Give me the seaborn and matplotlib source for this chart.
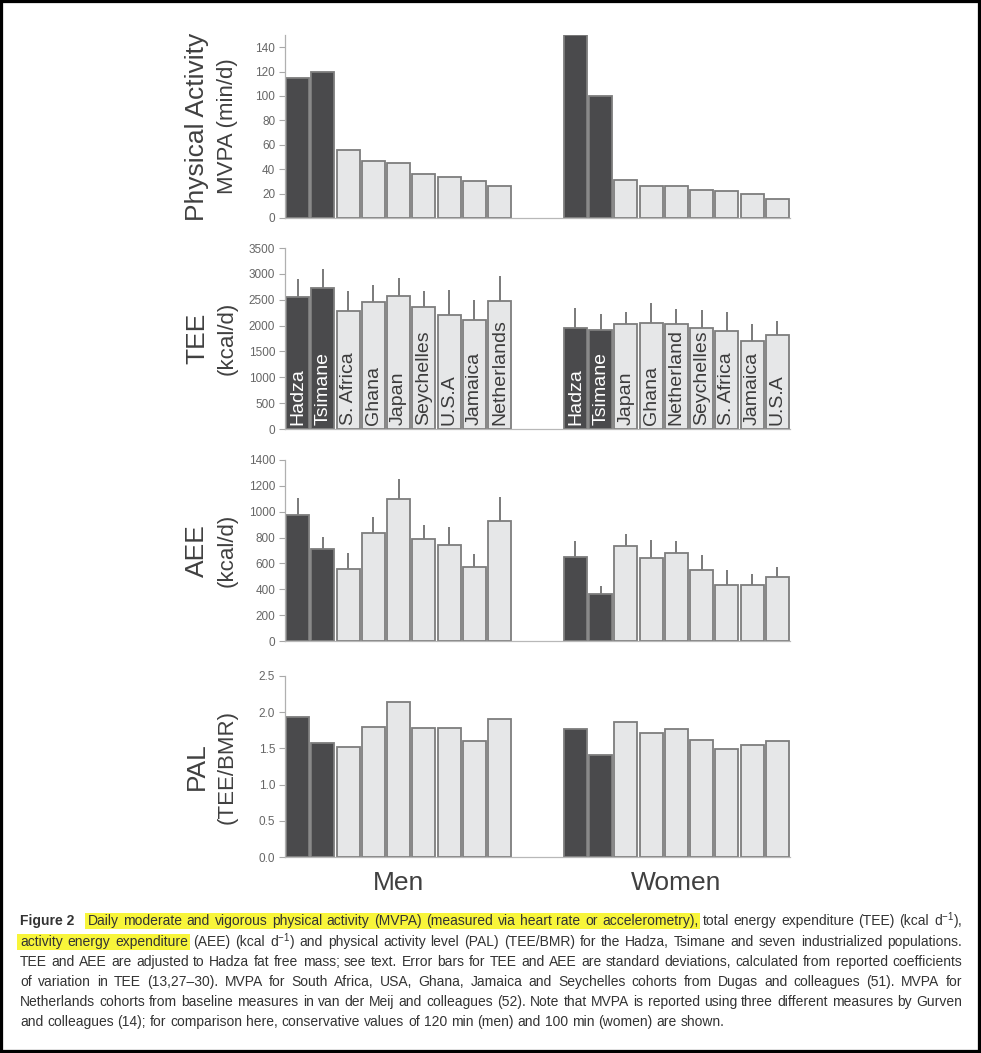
import numpy as np
import pandas as pd
import matplotlib
matplotlib.use("Agg")
import matplotlib.pyplot as plt
import matplotlib.patches as mpatches
from matplotlib import font_manager
from matplotlib.font_manager import FontProperties
from matplotlib.ticker import FormatStrFormatter
import seaborn as sns

# ---------------- data ----------------
men_pops = ["Hadza", "Tsimane", "S. Africa", "Ghana", "Japan", "Seychelles", "U.S.A", "Jamaica", "Netherlands"]
women_pops = ["Hadza", "Tsimane", "Japan", "Ghana", "Netherland", "Seychelles", "S. Africa", "Jamaica", "U.S.A"]
men_group = ["dark", "dark", "light", "light", "light", "light", "light", "light", "light"]
women_group = ["dark", "dark", "light", "light", "light", "light", "light", "light", "light"]

mvpa_men = [115, 120, 56, 47, 45, 36, 33.5, 30, 26]
mvpa_women = [150, 100, 31, 26, 26, 23, 22, 19.5, 15.5]

tee_men = [2553, 2727, 2282, 2450, 2566, 2353, 2205, 2102, 2476]
tee_men_sd = [355, 374, 381, 335, 348, 316, 477, 387, 483]
tee_women = [1947, 1921, 2031, 2057, 2025, 1954, 1896, 1709, 1818]
tee_women_sd = [387, 303, 238, 380, 296, 341, 367, 322, 271]

aee_men = [974, 709, 557, 835, 1098, 789, 742, 570, 928]
aee_men_sd = [134, 95, 121, 121, 155, 111, 142, 105, 186]
aee_women = [647, 361, 737, 644, 678, 552, 436, 436, 495]
aee_women_sd = [129, 62, 88, 140, 95, 116, 116, 85, 80]

pal_men = [1.93, 1.57, 1.52, 1.79, 2.14, 1.78, 1.78, 1.60, 1.91]
pal_women = [1.77, 1.41, 1.86, 1.71, 1.77, 1.62, 1.49, 1.55, 1.60]

sex_labels = ["Men", "Women"]

caption_lines = [
    ("Figure 2", "Daily moderate and vigorous physical activity (MVPA) (measured via heart rate or accelerometry),",
     "total energy expenditure (TEE) (kcal d$^{-1}$),"),
    (None, "activity energy expenditure",
     "(AEE) (kcal d$^{-1}$) and physical activity level (PAL) (TEE/BMR) for the Hadza, Tsimane and seven industrialized populations."),
    (None, None, "TEE and AEE are adjusted to Hadza fat free mass; see text. Error bars for TEE and AEE are standard deviations, calculated from reported coefficients"),
    (None, None, "of variation in TEE (13,27\u201330). MVPA for South Africa, USA, Ghana, Jamaica and Seychelles cohorts from Dugas and colleagues (51). MVPA for"),
    (None, None, "Netherlands cohorts from baseline measures in van der Meij and colleagues (52). Note that MVPA is reported using three different measures by Gurven"),
    (None, None, "and colleagues (14); for comparison here, conservative values of 120 min (men) and 100 min (women) are shown."),
]

# ---------------- style ----------------
sns.set_theme(style="white")
names = {f.name for f in font_manager.fontManager.ttflist}
main_font = "Liberation Sans" if "Liberation Sans" in names else "DejaVu Sans"
plt.rcParams["font.family"] = [main_font, "DejaVu Sans"]
plt.rcParams["mathtext.fontset"] = "custom"
plt.rcParams["mathtext.rm"] = main_font
plt.rcParams["mathtext.it"] = main_font
plt.rcParams["mathtext.bf"] = main_font

W, H = 981, 1053
fig = plt.figure(figsize=(W / 100, H / 100), dpi=100)

GAP = ["gap1", "gap2"]
order = ["M_" + p for p in men_pops] + GAP + ["W_" + p for p in women_pops]
palette = {"dark": "#4a4a4c", "light": "#e6e7e8"}

AX_L, AX_R = 285, 790

panels = [
    dict(m=mvpa_men, w=mvpa_women, msd=None, wsd=None, ymax=150, ticks=np.arange(0, 141, 20),
         lab1="Physical Activity", lab2="MVPA (min/d)", top=35, bot=218, fmt="%d", names=False),
    dict(m=tee_men, w=tee_women, msd=tee_men_sd, wsd=tee_women_sd, ymax=3500, ticks=np.arange(0, 3501, 500),
         lab1="TEE", lab2="(kcal/d)", top=248, bot=429, fmt="%d", names=True),
    dict(m=aee_men, w=aee_women, msd=aee_men_sd, wsd=aee_women_sd, ymax=1400, ticks=np.arange(0, 1401, 200),
         lab1="AEE", lab2="(kcal/d)", top=460, bot=641, fmt="%d", names=False),
    dict(m=pal_men, w=pal_women, msd=None, wsd=None, ymax=2.5, ticks=np.arange(0, 2.51, 0.5),
         lab1="PAL", lab2="(TEE/BMR)", top=676, bot=857, fmt="%.1f", names=False),
]

for k, P in enumerate(panels):
    ax = fig.add_axes([AX_L / W, 1 - P["bot"] / H, (AX_R - AX_L) / W, (P["bot"] - P["top"]) / H])
    df = pd.DataFrame({
        "slot": ["M_" + p for p in men_pops] + ["W_" + p for p in women_pops],
        "value": list(P["m"]) + list(P["w"]),
        "group": men_group + women_group,
    })
    sns.barplot(data=df, x="slot", y="value", hue="group", order=order, palette=palette,
                dodge=False, width=0.92, edgecolor="#7d7d7d", linewidth=1.3, legend=False,
                errorbar=None, ax=ax, zorder=2)
    if P["msd"] is not None:
        vals = list(P["m"]) + list(P["w"])
        sds = list(P["msd"]) + list(P["wsd"])
        xs = [order.index(s) for s in df["slot"]]
        ax.vlines(xs, vals, np.array(vals) + np.array(sds), colors="#7a7a7a", linewidth=1.4, zorder=1)
    if P["names"]:
        for s, g, lbl in zip(df["slot"], df["group"], men_pops + women_pops):
            ax.annotate(lbl, xy=(order.index(s), 0), xytext=(0, 3), textcoords="offset points",
                        rotation=90, ha="center", va="bottom", fontsize=14,
                        color="white" if g == "dark" else "#3c3c3c", zorder=3)
    ax.set_xlim(-0.5, len(order) - 0.5)
    ax.set_ylim(0, P["ymax"])
    ax.set_yticks(P["ticks"])
    ax.yaxis.set_major_formatter(FormatStrFormatter(P["fmt"]))
    if k == 3:
        ax.set_xticks([4, 15])
        ax.set_xticklabels(sex_labels, fontsize=19, color="#404040")
        ax.tick_params(axis="x", which="major", length=0, pad=10)
    else:
        ax.set_xticks([])
    ax.set_xticks(np.arange(-0.5, len(order), 1.0), minor=True)
    ax.tick_params(axis="x", which="minor", direction="out", length=4, width=0.8, color="#b0b0b0")
    ax.tick_params(axis="y", direction="out", length=4, width=0.8, color="#a8a8a8",
                   labelsize=8.5, labelcolor="#666666", pad=3, left=True)
    ax.set_xlabel("")
    ax.set_ylabel("")
    for sp in ["top", "right"]:
        ax.spines[sp].set_visible(False)
    ax.spines["left"].set_color("#b0b0b0")
    ax.spines["bottom"].set_color("#b8b8b8")
    ax.spines["left"].set_linewidth(0.9)
    ax.spines["bottom"].set_linewidth(0.9)
    ax.set_facecolor("white")
    yc = 1 - (P["top"] + P["bot"]) / 2 / H
    fig.text(197 / W, yc, P["lab1"], rotation=90, ha="center", va="center", fontsize=19, color="#404040")
    fig.text(227 / W, yc, P["lab2"], rotation=90, ha="center", va="center", fontsize=16, color="#404040")

# ---------------- caption (justified, with highlights) ----------------
renderer = fig.canvas.get_renderer()
cap_color = "#333333"


def fprops(size, weight):
    return FontProperties(family=[main_font, "DejaVu Sans"], size=size, weight=weight)


def measure(s, size, weight="normal"):
    t = fig.text(0, 0, s, fontproperties=fprops(size, weight))
    bb = t.get_window_extent(renderer)
    t.remove()
    return bb.width


X0, X1 = 20, 962
line_y = [921, 942, 962, 982, 1002, 1022]


def tokens(line):
    bold, hl, rest = line
    toks = []
    if bold:
        toks.append((bold, "bold", False, 9))
    if hl:
        for wd in hl.split(" "):
            toks.append((wd, "normal", True, 0))
    for wd in rest.split(" "):
        toks.append((wd, "normal", False, 0))
    return toks


# fit font size so the longest justified line fits with normal spacing
base = 10.0
sp10 = measure("a b", base) - measure("ab", base)
natural = []
for line in caption_lines[:-1]:
    toks = tokens(line)
    wsum = sum(measure(t[0], base, t[1]) for t in toks) + sum(t[3] for t in toks)
    natural.append(wsum + sp10 * (len(toks) - 1))
cap_size = min(10.5, base * (X1 - X0) * 0.995 / max(natural))
space_w = measure("a b", cap_size) - measure("ab", cap_size)

for li, line in enumerate(caption_lines):
    toks = tokens(line)
    widths = [measure(t[0], cap_size, t[1]) for t in toks]
    extra = sum(t[3] for t in toks)
    justify = li < len(caption_lines) - 1
    gap = (X1 - X0 - sum(widths) - extra) / (len(toks) - 1) if justify else space_w
    x = X0
    yc = line_y[li]
    hl_start = None
    hl_end = None
    for (wd, wt, ish, ex), wdt in zip(toks, widths):
        fig.text(x / W, 1 - yc / H, wd, fontproperties=fprops(cap_size, wt),
                 color=cap_color, ha="left", va="center", zorder=5)
        if ish:
            if hl_start is None:
                hl_start = x
            hl_end = x + wdt
        x += wdt + gap + ex
    if hl_start is not None:
        fig.patches.append(mpatches.Rectangle(((hl_start - 3) / W, 1 - (yc + 8) / H),
                                              (hl_end - hl_start + 5) / W, 16 / H,
                                              transform=fig.transFigure, facecolor="#f8f53a",
                                              edgecolor="none", zorder=1))

# frame
fig.patches.append(mpatches.Rectangle((0, 0), 1, 1, transform=fig.transFigure, fill=False,
                                      edgecolor="black", linewidth=4.5, zorder=10))

fig.savefig("out.png", dpi=100)
